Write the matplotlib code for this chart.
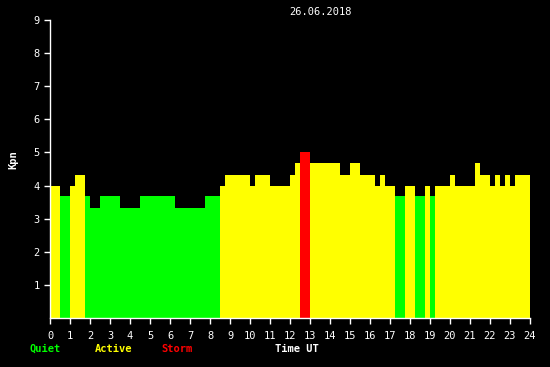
import matplotlib
matplotlib.use("Agg")
import matplotlib.pyplot as plt
from matplotlib.ticker import MultipleLocator

# Kp index, 26.06.2018 (segment start hour, value); last segment ends at 24
seg_start = [0, 0.5, 1.0, 1.25, 1.75, 2.0, 2.5, 3.5, 4.5, 6.25, 7.75, 8.5,
             8.75, 10.0, 10.25, 11.0, 12.0, 12.25, 12.5, 13.0, 14.5, 15.0,
             15.5, 16.25, 16.5, 16.75, 17.25, 17.75, 18.25, 18.75, 19.0,
             19.25, 20.0, 20.25, 21.25, 21.5, 22.0, 22.25, 22.5, 22.75,
             23.0, 23.25]
kp = [4, 3.67, 4, 4.33, 3.67, 3.33, 3.67, 3.33, 3.67, 3.33, 3.67, 4,
      4.33, 4, 4.33, 4, 4.33, 4.67, 5, 4.67, 4.33, 4.67,
      4.33, 4, 4.33, 4, 3.67, 4, 3.67, 4, 3.67,
      4, 4.33, 4, 4.67, 4.33, 4, 4.33, 4, 4.33,
      4, 4.33]
seg_end = seg_start[1:] + [24]
widths = [e - s for s, e in zip(seg_start, seg_end)]


def kp_color(v):
    if v < 4:
        return "#00ff00"
    if v < 5:
        return "#ffff00"
    return "#ff0000"


colors = [kp_color(v) for v in kp]

plt.rcParams['font.family'] = ['DejaVu Sans Mono']

fig = plt.figure(figsize=(5.5, 3.67), dpi=100, facecolor="black")
ax = fig.add_axes([50 / 550, 49 / 367, 480 / 550, 298 / 367], facecolor="black")

ax.bar(seg_start, kp, width=widths, align="edge", color=colors, linewidth=0)

ax.set_xlim(0, 24)
ax.set_ylim(0, 9)
ax.xaxis.set_major_locator(MultipleLocator(1))
ax.xaxis.set_minor_locator(MultipleLocator(0.25))
ax.yaxis.set_major_locator(MultipleLocator(1))
ax.yaxis.set_minor_locator(MultipleLocator(1 / 3))
ax.set_yticks(range(1, 10))

for side in ["top", "right"]:
    ax.spines[side].set_visible(False)
for side in ["left", "bottom"]:
    ax.spines[side].set_color("white")
    ax.spines[side].set_linewidth(1)

ax.tick_params(colors="white", labelsize=7.5, width=1)
ax.tick_params(which="major", length=4.5)
ax.tick_params(which="minor", length=2.5, width=1)
ax.tick_params(axis="x", pad=5)
ax.tick_params(axis="y", pad=3)

fig.text(320 / 550, 1 - 12 / 367, "26.06.2018", color="white", fontsize=7.5,
         ha="center", va="center")
fig.text(13 / 550, 1 - 160 / 367, "Kpn", color="white", fontsize=7.5,
         fontweight="bold", rotation=90, ha="center", va="center")
fig.text(29 / 550, 1 - 349 / 367, "Quiet", color="#00ff00", fontsize=7.5,
         fontweight="bold", ha="left", va="center")
fig.text(95 / 550, 1 - 349 / 367, "Active", color="#ffff00", fontsize=7.5,
         fontweight="bold", ha="left", va="center")
fig.text(161 / 550, 1 - 349 / 367, "Storm", color="#ff0000", fontsize=7.5,
         fontweight="bold", ha="left", va="center")
fig.text(275 / 550, 1 - 349 / 367, "Time UT", color="white", fontsize=7.5,
         fontweight="bold", ha="left", va="center")

fig.savefig("out.png", dpi=100, facecolor="black")
